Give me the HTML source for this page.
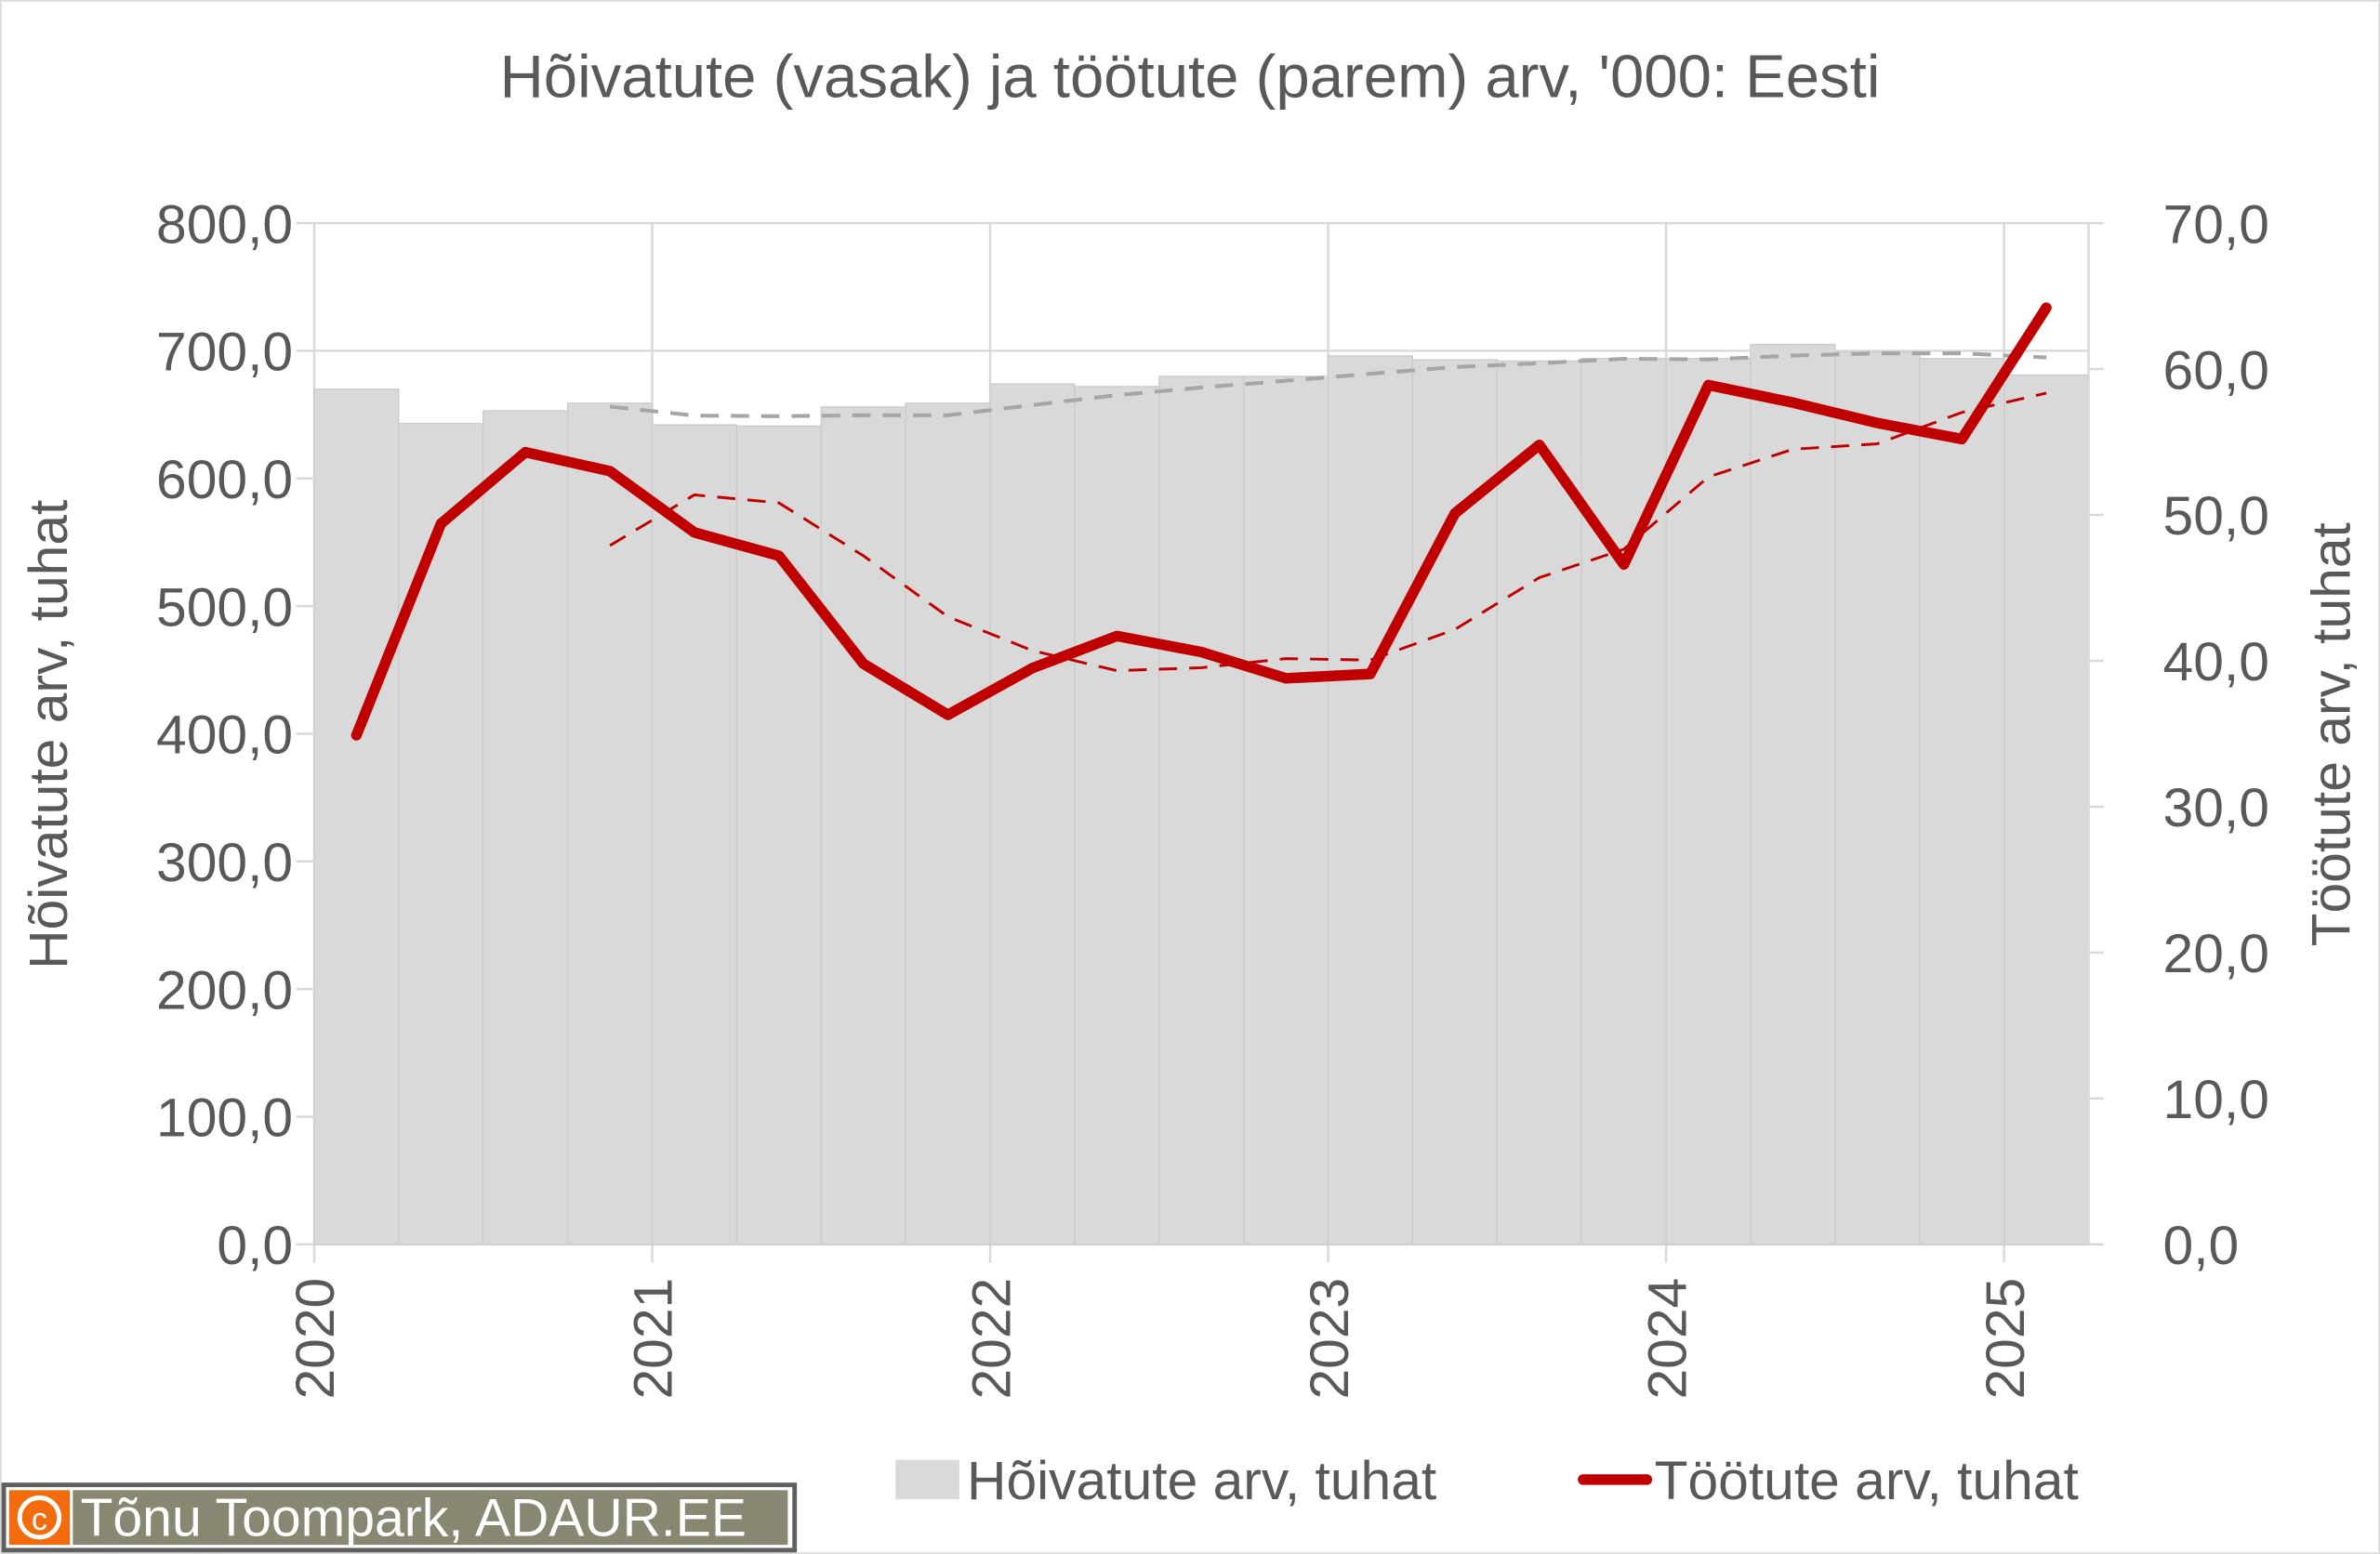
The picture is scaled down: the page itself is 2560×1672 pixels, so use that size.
<!DOCTYPE html>
<html><head><meta charset="utf-8"><style>
html,body{margin:0;padding:0;background:#fff;}
svg{display:block;}
text{font-family:"Liberation Sans",sans-serif;fill:#595959;}
</style></head><body>
<svg id="chart" width="2560" height="1672" viewBox="0 0 1568 1024" xmlns="http://www.w3.org/2000/svg">
<rect x="0.5" y="0.5" width="1567" height="1023" fill="#fff" stroke="#d9d9d9"/>
<text x="784" y="64" text-anchor="middle" font-size="40">Hõivatute (vasak) ja töötute (parem) arv, '000: Eesti</text>
<g id="grid"></g>
<g id="bars"></g>
<g id="lines"></g>
<g id="axes"></g>
<text transform="translate(44,484) rotate(-90)" text-anchor="middle" font-size="36">Hõivatute arv, tuhat</text>
<text transform="translate(1548,484) rotate(-90)" text-anchor="middle" font-size="36">Töötute arv, tuhat</text>
<g>
<rect x="590" y="962" width="42" height="26" fill="#d9d9d9"/>
<text x="637" y="988" font-size="36">Hõivatute arv, tuhat</text>
<line x1="1043" y1="975" x2="1085" y2="975" stroke="#c00000" stroke-width="7" stroke-linecap="round"/>
<text x="1090" y="988" font-size="36">Töötute arv, tuhat</text>
</g>
<g>
<rect x="1" y="977" width="524" height="46" fill="#5f5f5f"/>
<rect x="4" y="980" width="518" height="40" fill="#fff"/>
<rect x="6" y="982" width="40" height="36" fill="#f26c0d"/>
<rect x="48" y="982" width="471" height="36" fill="#878772"/>
<circle cx="26" cy="1000" r="13" fill="none" stroke="#fff" stroke-width="3"/>
<text x="26" y="1008" text-anchor="middle" font-size="21" style="fill:#fff">c</text>
<text x="53" y="1012" font-size="35" style="fill:#fff">Tõnu Toompark, ADAUR.EE</text>
</g>
</svg>
<script>
const categories=["2020Q1","2020Q2","2020Q3","2020Q4","2021Q1","2021Q2","2021Q3","2021Q4","2022Q1","2022Q2","2022Q3","2022Q4","2023Q1","2023Q2","2023Q3","2023Q4","2024Q1","2024Q2","2024Q3","2024Q4","2025Q1"];
const employed=[670,643,653,659,642,641,656,659,674,672,680,680,696,693,692,694,694,705,699,694,681];
const unemployed=[34.9,49.4,54.3,53.0,48.8,47.2,39.8,36.3,39.5,41.7,40.6,38.8,39.1,50.1,54.8,46.6,58.9,57.7,56.3,55.2,64.2];
const leftTicks=["0,0","100,0","200,0","300,0","400,0","500,0","600,0","700,0","800,0"];
const rightTicks=["0,0","10,0","20,0","30,0","40,0","50,0","60,0","70,0"];
const yearLabels=["2020","2021","2022","2023","2024","2025"];

const NS="http://www.w3.org/2000/svg";
const X0=207,X1=1376,Y0=820,Y1=147;
const bw=(X1-X0)/categories.length;
const yL=v=>Y0-(v/800)*(Y0-Y1);
const yR=v=>Y0-(v/70)*(Y0-Y1);
const xC=i=>X0+(i+0.5)*bw;
function mk(tag,attrs,parent){const e=document.createElementNS(NS,tag);for(const k in attrs)e.setAttribute(k,attrs[k]);parent.appendChild(e);return e;}
const grid=document.getElementById('grid'),bars=document.getElementById('bars'),lines=document.getElementById('lines'),axes=document.getElementById('axes');
leftTicks.forEach((t,i)=>{const y=yL(i*100);
 const g=mk('line',{x1:X0,x2:X1,y1:y,y2:y,stroke:'#d9d9d9','stroke-width':1.5},grid);
 
 
 const tk=mk('line',{x1:X0-12,x2:X0,y1:y,y2:y,stroke:'#d9d9d9','stroke-width':1.5},axes);
 
 
 const tx=mk('text',{x:193,y:y+13,'text-anchor':'end','font-size':36},axes);tx.textContent=t;
 
 
});
rightTicks.forEach((t,i)=>{const y=yR(i*10);
 const tk=mk('line',{x1:X1,x2:X1+10,y1:y,y2:y,stroke:'#d9d9d9','stroke-width':1.5},axes);
 
 
 const tx=mk('text',{x:1425,y:y+13,'font-size':36},axes);tx.textContent=t;
 
 
});
yearLabels.forEach((t,i)=>{const x=X0+i*4*bw;
 const g=mk('line',{x1:x,x2:x,y1:Y1,y2:Y0+12,stroke:'#d9d9d9','stroke-width':1.5},grid);
 
 
 const tx=mk('text',{transform:`translate(${x+13},${Y0+22}) rotate(-90)`,'text-anchor':'end','font-size':36},axes);tx.textContent=t;
 
 
});
const ra=mk('line',{x1:X1,x2:X1,y1:Y1,y2:Y0,stroke:'#d9d9d9','stroke-width':1.5},axes);


employed.forEach((v,i)=>{
 const r=mk('rect',{x:X0+i*bw,y:yL(v),width:bw,height:Y0-yL(v),fill:'#d9d9d9',stroke:'#cbcbcb','stroke-width':0.8},bars);
 
 
});
function ma(arr){const o=[];for(let i=3;i<arr.length;i++)o.push([i,(arr[i]+arr[i-1]+arr[i-2]+arr[i-3])/4]);return o;}
const pe=ma(employed).map(([i,v])=>xC(i)+','+yL(v)).join(' ');
const l1=mk('polyline',{points:pe,fill:'none',stroke:'#a6a6a6','stroke-width':2.5,'stroke-dasharray':'12 8'},lines);


const pu=ma(unemployed).map(([i,v])=>xC(i)+','+yR(v)).join(' ');
const l2=mk('polyline',{points:pu,fill:'none',stroke:'#c00000','stroke-width':1.8,'stroke-dasharray':'12 8'},lines);


const p=unemployed.map((v,i)=>xC(i)+','+yR(v)).join(' ');
const l3=mk('polyline',{points:p,fill:'none',stroke:'#c00000','stroke-width':7,'stroke-linejoin':'round','stroke-linecap':'round'},lines);


</script>
</body></html>
